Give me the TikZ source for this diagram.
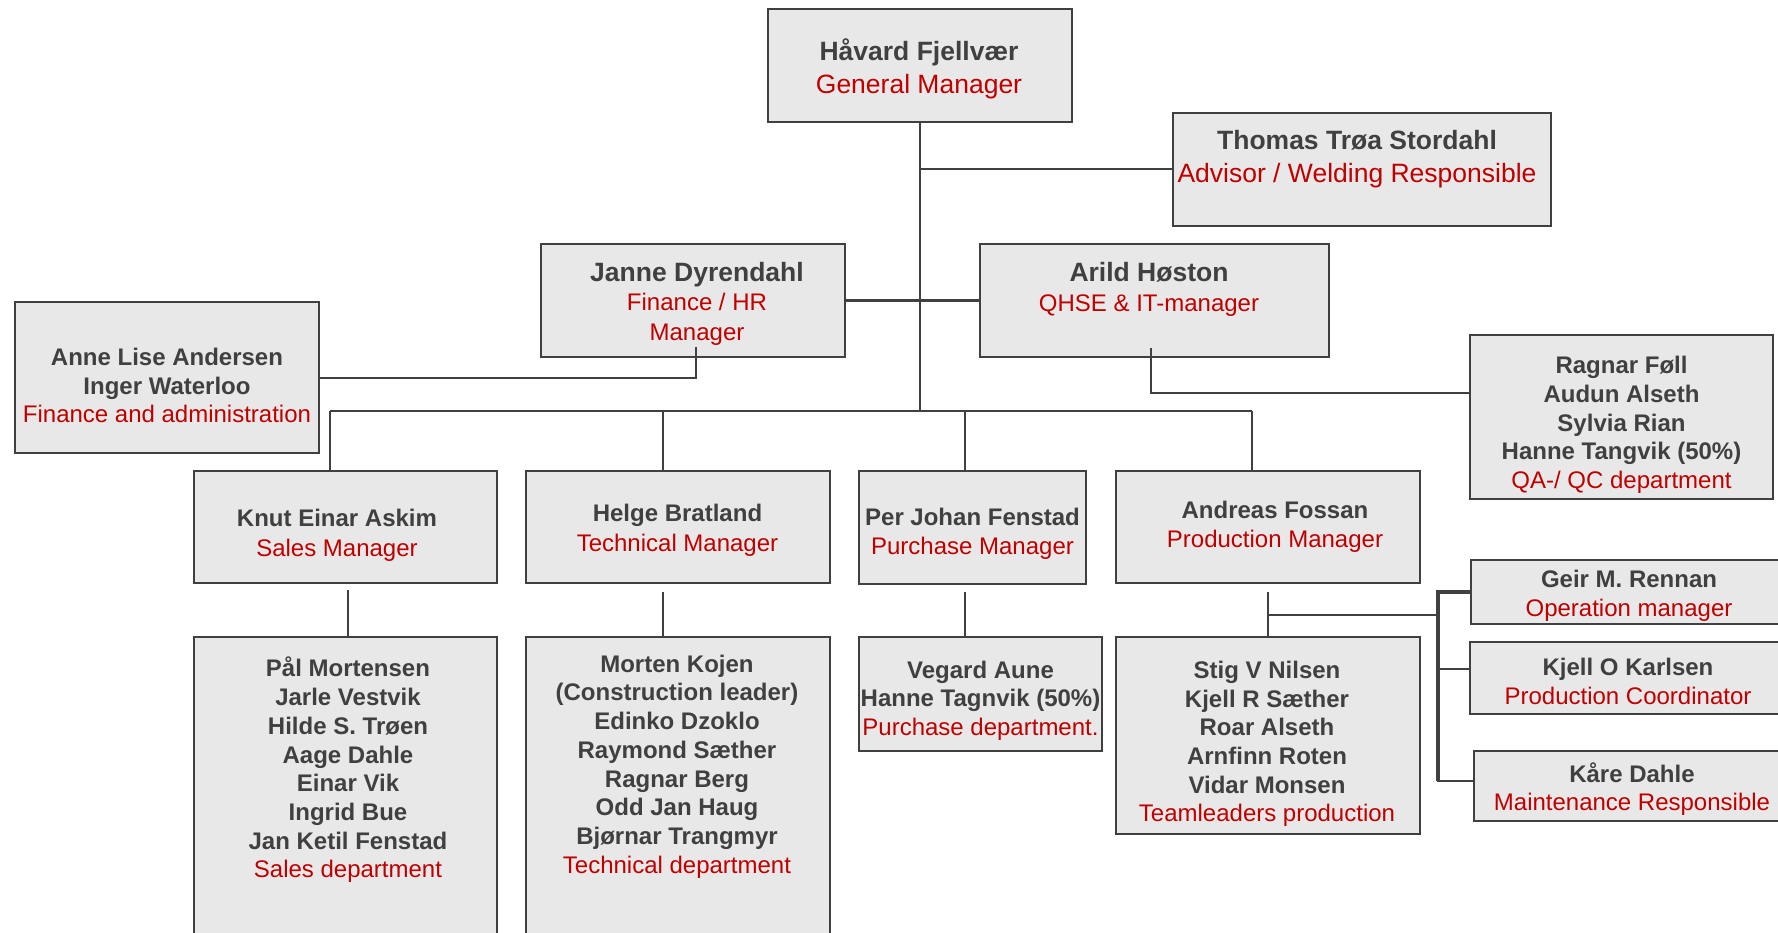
\documentclass[tikz,border=0pt]{standalone}
\usepackage{fontspec}
\setmainfont{Liberation Sans}
\usetikzlibrary{calc}
\definecolor{boxgray}{HTML}{E8E8E8}
\definecolor{linegray}{HTML}{404040}
\definecolor{darktxt}{HTML}{404040}
\definecolor{redtxt}{HTML}{C00000}
\newcommand{\rl}[1]{{\mdseries\color{redtxt}#1}}
\newcommand{\obox}[5]{\node[orgbox,anchor=north west,minimum width={(#4-#2)*1pt},minimum height={(#5-#3)*1pt}] (#1) at (#2,#3) {};}
\tikzset{
  orgbox/.style={draw=linegray,fill=boxgray,line width=2pt,rectangle,inner sep=0pt,outer sep=0pt},
  conn/.style={draw=linegray,line width=2pt},
  thk/.style={draw=linegray,line width=3.6pt},
  txt/.style={align=center,inner sep=0pt,text=darktxt,yshift=-2.5pt,font=\fontsize{24}{28.7}\selectfont\bfseries},
  txtbig/.style={align=center,inner sep=0pt,text=darktxt,yshift=-2.5pt,font=\fontsize{26.5}{33}\selectfont\bfseries},
  txtmid/.style={align=center,inner sep=0pt,text=darktxt,yshift=-2.5pt,font=\fontsize{24}{29.5}\selectfont\bfseries}
}
\begin{document}
\begin{tikzpicture}[x=1pt,y=-1pt]
\useasboundingbox (0,0) rectangle (1778,933);
\fill[white] (0,0) rectangle (1778,933);
\clip (0,0) rectangle (1778,933);
% boxes
\obox{gm}{768}{9}{1072}{122}
\obox{thomas}{1173}{113}{1551}{226}
\obox{janne}{541}{244}{845}{357}
\obox{arild}{980}{244}{1329}{357}
\obox{anne}{15}{302}{319}{453}
\obox{qa}{1470}{335}{1773}{499}
\obox{knut}{194}{471}{497}{583}
\obox{helge}{526}{471}{830}{583}
\obox{per}{859}{471}{1086}{584}
\obox{andreas}{1116}{471}{1420}{583}
\obox{geir}{1471}{560}{1800}{624}
\obox{kjell}{1470}{642}{1800}{714}
\obox{kare}{1474}{751}{1800}{821}
\obox{sales}{194}{637}{497}{960}
\obox{tech}{526}{637}{830}{960}
\obox{vegard}{859}{637}{1102}{751}
\obox{stig}{1116}{637}{1420}{834}
% texts
\node[txtbig] (tgm) at (919,66.5) {Håvard Fjellvær\\\rl{General Manager}};
\node[txtbig] (tthomas) at (1357,157) {Thomas Trøa Stordahl\\\rl{Advisor / Welding Responsible}};
\node[txtmid] (tjanne) at (697,301) {{\fontsize{26.5}{29.5}\selectfont Janne Dyrendahl}\\\rl{Finance / HR}\\\rl{Manager}};
\node[txtmid] (tarild) at (1149,287) {{\fontsize{26.5}{30}\selectfont Arild Høston}\\\rl{QHSE \& IT-manager}};
\node[txt,yshift=1.5pt] (tanne) at (167,384.5) {Anne Lise Andersen\\Inger Waterloo\\\rl{Finance and administration}};
\node[txt] (tqa) at (1621.5,422.5) {Ragnar Føll\\Audun Alseth\\Sylvia Rian\\Hanne Tangvik (50\%)\\\rl{QA-/ QC department}};
\node[txtmid] (tknut) at (337,533) {Knut Einar Askim\\\rl{Sales Manager}};
\node[txtmid] (thelge) at (677.5,528) {Helge Bratland\\\rl{Technical Manager}};
\node[txt] (tper) at (972.5,531.5) {Per Johan Fenstad\\\rl{Purchase Manager}};
\node[txt] (tandreas) at (1275,524) {Andreas Fossan\\\rl{Production Manager}};
\node[txt] (tgeir) at (1629,593) {Geir M. Rennan\\\rl{Operation manager}};
\node[txt] (tkjell) at (1628,679) {Kjell O Karlsen\\\rl{Production Coordinator}};
\node[txt] (tkare) at (1632,786.5) {Kåre Dahle\\\rl{Maintenance Responsible}};
\node[txt] (tsales) at (348,767.5) {Pål Mortensen\\Jarle Vestvik\\Hilde S. Trøen\\Aage Dahle\\Einar Vik\\Ingrid Bue\\Jan Ketil Fenstad\\\rl{Sales department}};
\node[txt] (ttech) at (677,764) {Morten Kojen\\(Construction leader)\\Edinko Dzoklo\\Raymond Sæther\\Ragnar Berg\\Odd Jan Haug\\Bjørnar Trangmyr\\\rl{Technical department}};
\node[txt] (tvegard) at (980.5,698) {Vegard Aune\\Hanne Tagnvik (50\%)\\\rl{Purchase department.}};
\node[txt] (tstig) at (1267,741.5) {Stig V Nilsen\\Kjell R Sæther\\Roar Alseth\\Arnfinn Roten\\Vidar Monsen\\\rl{Teamleaders production}};
% connectors
\coordinate (busL) at (330,411);
\coordinate (busR) at (1252,411);
\coordinate (dHelge) at (663,411);
\coordinate (dPer) at (965,411);
\draw[conn] (gm.south) -- (gm.south |- busL);
\draw[conn] (busL) -- (busR);
\draw[conn] (gm.south |- thomas.west) -- (thomas.west);
\draw[thk] (janne.east) -- (arild.west);
\draw[conn] ([xshift=3pt,yshift=10pt]janne.south) |- (anne.east);
\draw[conn] ([xshift=-3.5pt,yshift=9pt]arild.south) |- ([yshift=24pt]qa.west);
\draw[conn] (busL) -- (busL |- knut.north);
\draw[conn] (dHelge) -- (dHelge |- helge.north);
\draw[conn] (dPer) -- (dPer |- per.north);
\draw[conn] (busR) -- (busR |- andreas.north);
\coordinate (uKnut) at (348,590);
\coordinate (uHelge) at (663,592);
\coordinate (uPer) at (965,592);
\coordinate (uAnd) at (1268,592);
\coordinate (spine) at (1438,615);
\coordinate (spineBot) at (1438,781);
\draw[conn] (uKnut) -- (uKnut |- sales.north);
\draw[conn] (uHelge) -- (uHelge |- tech.north);
\draw[conn] (uPer) -- (uPer |- vegard.north);
\draw[conn] (uAnd) -- (uAnd |- stig.north);
\draw[conn] (uAnd |- spine) -- (spine);
\draw[thk] (geir.west) -| (spineBot);
\draw[conn] ($(kjell.west)+(0,-9)$) -- ++(-32,0);
\draw[conn] ($(kare.west)+(0,-5)$) -- ++(-37.5,0);
\end{tikzpicture}
\end{document}
